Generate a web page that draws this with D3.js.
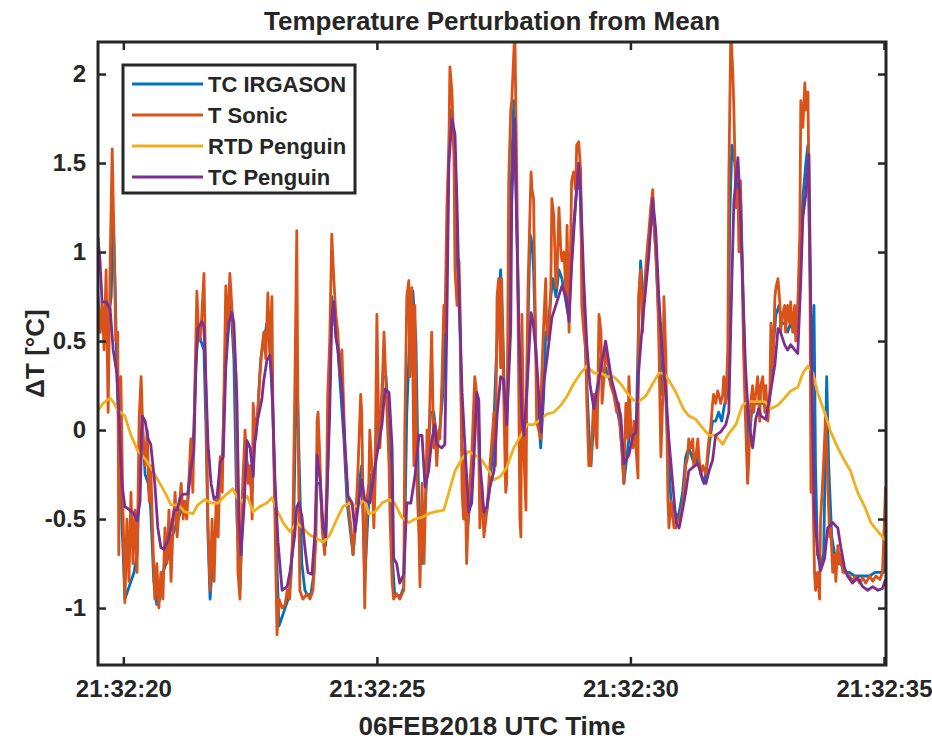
<!DOCTYPE html>
<html>
<head>
<meta charset="utf-8">
<script src="https://cdn.jsdelivr.net/npm/d3@7"></script>
<style>
  body { margin: 0; background: #fff; }
  text { font-family: "Liberation Sans", Arial, sans-serif; font-weight: bold; fill: #262626; }
</style>
</head>
<body>
<div id="main"></div>
<script>
// seconds after 21:32:00 UTC, value in degC
var tcIrgason = [
[19.50,0.75],[19.54,0.55],[19.58,0.65],[19.64,0.50],[19.70,0.60],[19.76,0.75],[19.80,1.20],[19.84,0.80],[19.87,0.35],[19.91,0.00],
[19.97,-0.50],[20.03,-0.95],[20.09,-0.90],[20.15,-0.85],[20.21,-0.80],[20.27,-0.70],[20.33,-0.15],[20.37,0.05],[20.43,-0.25],[20.49,-0.30],
[20.54,-0.45],[20.60,-0.85],[20.66,-0.98],[20.72,-0.95],[20.78,-0.80],[20.84,-0.75],[20.90,-0.70],[20.96,-0.60],[21.02,-0.55],[21.08,-0.50],
[21.14,-0.45],[21.20,-0.45],[21.27,-0.40],[21.33,-0.20],[21.39,0.00],[21.43,0.35],[21.47,0.60],[21.53,0.50],[21.59,0.45],[21.63,0.00],
[21.67,-0.60],[21.71,-0.95],[21.77,-0.70],[21.83,-0.50],[21.89,-0.30],[21.95,-0.20],[22.00,0.30],[22.06,0.60],[22.12,0.70],[22.18,0.40],
[22.24,-0.50],[22.30,-0.90],[22.36,-0.40],[22.42,-0.15],[22.48,-0.25],[22.54,-0.35],[22.59,0.00],[22.65,0.10],[22.71,0.40],[22.77,0.50],
[22.83,0.60],[22.89,0.45],[22.95,0.10],[23.01,-0.60],[23.07,-1.10],[23.13,-1.05],[23.19,-1.00],[23.25,-0.95],[23.30,-0.85],[23.36,-0.50],
[23.42,0.40],[23.46,-0.10],[23.52,-0.75],[23.58,-0.90],[23.64,-0.93],[23.70,-0.92],[23.76,-0.80],[23.82,-0.30],[23.88,-0.30],[23.94,-0.60],
[23.99,-0.65],[24.05,0.00],[24.11,0.75],[24.17,0.60],[24.23,0.45],[24.29,0.20],[24.35,-0.05],[24.41,-0.40],[24.47,-0.55],[24.53,-0.70],
[24.59,-0.50],[24.65,-0.30],[24.70,-0.20],[24.76,-0.85],[24.82,-0.50],[24.88,-0.25],[24.94,-0.45],[25.00,0.05],[25.06,0.00],[25.12,0.30],
[25.18,0.30],[25.24,0.00],[25.30,-0.70],[25.35,-0.92],[25.41,-0.93],[25.47,-0.93],[25.53,-0.88],[25.59,0.10],[25.65,0.55],[25.71,0.78],
[25.77,0.50],[25.83,-0.50],[25.89,-0.75],[25.95,-0.45],[26.01,-0.10],[26.06,0.10],[26.12,0.10],[26.18,-0.05],[26.24,0.00],[26.30,0.20],
[26.36,0.60],[26.40,1.30],[26.44,1.80],[26.48,1.80],[26.52,1.60],[26.56,1.10],[26.60,0.85],[26.64,0.55],[26.68,-0.10],[26.73,-0.45],
[26.79,-0.55],[26.85,-0.35],[26.91,0.00],[26.97,0.15],[27.01,0.00],[27.05,-0.40],[27.11,-0.50],[27.17,-0.45],[27.23,-0.30],[27.29,-0.10],
[27.34,0.30],[27.40,0.70],[27.44,0.90],[27.48,0.60],[27.54,-0.10],[27.58,0.20],[27.62,1.00],[27.66,1.50],[27.70,1.85],[27.74,1.40],
[27.78,0.90],[27.82,0.10],[27.86,0.10],[27.90,-0.10],[27.94,0.00],[27.98,0.60],[28.02,1.10],[28.06,1.05],[28.09,0.90],[28.13,0.50],
[28.17,0.15],[28.23,-0.10],[28.29,0.20],[28.33,0.55],[28.37,0.55],[28.43,0.75],[28.47,0.85],[28.53,0.75],[28.59,0.90],[28.65,0.85],
[28.71,0.75],[28.77,0.65],[28.83,0.90],[28.88,1.15],[28.94,1.35],[29.00,1.40],[29.06,0.80],[29.12,0.40],[29.18,0.00],[29.22,-0.20],
[29.28,0.05],[29.34,0.10],[29.40,0.40],[29.46,0.30],[29.51,0.35],[29.57,0.30],[29.63,0.25],[29.69,0.20],[29.75,0.10],[29.81,0.00],
[29.87,-0.30],[29.93,-0.15],[29.99,0.00],[30.05,-0.05],[30.11,-0.05],[30.16,0.60],[30.20,0.95],[30.26,0.70],[30.32,0.90],[30.38,1.10],
[30.44,1.25],[30.50,1.00],[30.56,0.60],[30.62,0.20],[30.68,0.30],[30.74,-0.10],[30.80,-0.40],[30.86,-0.45],[30.92,-0.50],[30.97,-0.45],
[31.03,-0.35],[31.09,-0.15],[31.15,-0.10],[31.21,-0.15],[31.27,-0.20],[31.33,-0.15],[31.39,-0.25],[31.45,-0.30],[31.51,-0.20],[31.57,-0.05],
[31.62,0.05],[31.68,0.05],[31.74,0.10],[31.80,0.05],[31.86,0.15],[31.92,0.20],[31.96,1.20],[32.00,1.60],[32.06,1.50],[32.12,1.30],
[32.17,1.35],[32.21,0.90],[32.27,0.20],[32.33,-0.10],[32.39,0.10],[32.45,0.15],[32.51,0.15],[32.57,0.15],[32.63,0.15],[32.69,0.10],
[32.75,0.20],[32.81,0.45],[32.87,0.65],[32.93,0.70],[32.98,0.60],[33.04,0.60],[33.10,0.55],[33.16,0.60],[33.22,0.55],[33.28,0.55],
[33.34,0.90],[33.40,1.30],[33.46,1.50],[33.50,1.60],[33.54,0.90],[33.58,0.30],[33.62,0.70],[33.65,-0.20],[33.69,-0.70],[33.75,-0.75],
[33.81,-0.70],[33.87,0.30],[33.91,-0.20],[33.97,-0.60],[34.03,-0.70],[34.09,-0.75],[34.15,-0.75],[34.22,-0.80],[34.32,-0.80],[34.42,-0.82],
[34.52,-0.82],[34.62,-0.82],[34.72,-0.82],[34.82,-0.80],[34.92,-0.80],[35.00,-0.80],[35.03,-0.60]];

var tSonic = [
[19.50,0.70],[19.54,0.55],[19.58,0.72],[19.62,0.45],[19.66,0.90],[19.70,0.10],[19.74,0.95],[19.78,1.58],[19.82,1.00],[19.85,0.50],
[19.89,0.55],[19.91,-0.70],[19.95,0.30],[19.99,-0.40],[20.03,-0.97],[20.07,-0.50],[20.11,-0.85],[20.15,-0.35],[20.19,-0.75],[20.23,-0.45],
[20.27,-0.80],[20.31,0.05],[20.35,0.30],[20.39,-0.05],[20.43,-0.20],[20.47,0.00],[20.51,-0.40],[20.54,-0.20],[20.58,-0.60],[20.62,-0.95],
[20.66,-0.75],[20.70,-1.00],[20.74,-0.80],[20.78,-0.95],[20.82,-0.55],[20.86,-0.75],[20.90,-0.45],[20.94,-0.85],[20.98,-0.55],[21.02,-0.35],
[21.06,-0.60],[21.10,-0.45],[21.14,-0.30],[21.18,-0.50],[21.21,-0.40],[21.25,-0.50],[21.29,-0.30],[21.33,-0.05],[21.37,-0.35],[21.41,0.25],
[21.45,0.78],[21.49,0.50],[21.53,0.55],[21.59,0.88],[21.63,0.20],[21.67,-0.55],[21.71,-0.90],[21.75,-0.50],[21.79,-0.85],[21.83,-0.40],
[21.87,-0.60],[21.91,-0.15],[21.95,-0.35],[21.99,0.30],[22.02,0.81],[22.06,0.55],[22.10,0.88],[22.16,0.60],[22.22,0.30],[22.26,-0.80],
[22.30,-0.95],[22.34,-0.40],[22.40,0.00],[22.46,-0.30],[22.50,-0.20],[22.54,-0.50],[22.56,0.15],[22.61,-0.05],[22.65,0.10],[22.69,0.30],
[22.73,0.45],[22.77,0.55],[22.81,0.40],[22.85,0.77],[22.89,0.43],[22.93,0.75],[22.95,0.10],[22.99,-0.50],[23.03,-1.15],[23.07,-0.95],
[23.13,-1.00],[23.19,-0.98],[23.23,-0.90],[23.28,-0.95],[23.34,-0.60],[23.38,0.20],[23.42,1.12],[23.44,0.20],[23.48,-0.90],[23.54,-0.95],
[23.62,-0.92],[23.68,-0.95],[23.74,-0.90],[23.80,-0.60],[23.82,0.05],[23.84,0.10],[23.88,-0.20],[23.92,-0.55],[23.97,-0.70],[24.01,-0.30],
[24.03,0.20],[24.07,0.50],[24.11,1.10],[24.15,0.85],[24.19,0.65],[24.23,0.55],[24.27,0.30],[24.31,0.45],[24.37,-0.10],[24.43,-0.40],
[24.49,-0.55],[24.53,-0.70],[24.59,-0.45],[24.63,-0.20],[24.68,0.20],[24.70,0.10],[24.74,-0.60],[24.76,-1.00],[24.80,-0.40],[24.84,-0.30],
[24.86,0.00],[24.90,-0.20],[24.94,-0.55],[24.96,-0.35],[25.00,0.65],[25.04,-0.05],[25.06,-0.10],[25.10,0.20],[25.14,0.55],[25.16,0.40],
[25.20,0.10],[25.24,-0.20],[25.26,-0.50],[25.30,-0.85],[25.33,-0.95],[25.39,-0.92],[25.45,-0.95],[25.53,-0.90],[25.55,0.00],[25.59,0.75],
[25.63,0.84],[25.65,0.30],[25.69,0.80],[25.73,-0.20],[25.75,0.70],[25.79,-0.30],[25.83,-0.60],[25.85,-0.88],[25.89,-0.30],[25.93,-0.75],
[25.95,-0.50],[25.99,0.00],[26.02,-0.15],[26.04,0.10],[26.08,0.55],[26.12,-0.10],[26.14,0.05],[26.18,-0.20],[26.22,0.00],[26.24,-0.05],
[26.28,0.25],[26.32,0.70],[26.34,0.55],[26.38,1.25],[26.42,1.60],[26.44,2.04],[26.48,1.90],[26.52,1.55],[26.54,0.90],[26.58,0.70],
[26.62,0.95],[26.64,0.70],[26.68,-0.35],[26.71,-0.50],[26.73,-0.10],[26.77,-0.75],[26.81,-0.40],[26.87,-0.15],[26.93,0.30],[26.97,0.20],
[27.01,-0.10],[27.03,-0.55],[27.07,-0.30],[27.11,-0.60],[27.17,-0.45],[27.23,-0.20],[27.31,0.10],[27.34,-0.20],[27.37,0.75],[27.40,0.85],
[27.44,0.35],[27.46,0.85],[27.50,0.20],[27.54,-0.35],[27.56,-0.30],[27.60,1.40],[27.64,1.80],[27.66,1.85],[27.72,2.25],[27.76,1.40],
[27.78,0.80],[27.82,-0.50],[27.84,-0.60],[27.86,0.65],[27.90,-0.15],[27.94,-0.45],[27.96,0.40],[27.98,0.80],[28.04,1.45],[28.06,1.35],
[28.09,1.30],[28.13,0.50],[28.15,0.05],[28.23,-0.05],[28.25,0.30],[28.29,0.60],[28.33,0.85],[28.35,0.55],[28.39,0.50],[28.43,0.80],
[28.45,1.30],[28.49,1.20],[28.53,0.80],[28.55,0.85],[28.59,1.25],[28.63,1.00],[28.65,0.95],[28.69,1.00],[28.73,0.75],[28.75,1.15],
[28.79,0.55],[28.83,1.20],[28.84,1.40],[28.88,1.45],[28.92,1.35],[28.94,1.60],[28.98,1.62],[29.02,1.45],[29.04,0.70],[29.08,0.55],
[29.12,0.45],[29.14,0.15],[29.18,-0.20],[29.22,-0.20],[29.24,-0.05],[29.28,0.20],[29.32,-0.05],[29.34,-0.10],[29.38,0.65],[29.42,0.55],
[29.44,0.15],[29.48,0.30],[29.51,0.45],[29.53,0.40],[29.57,0.35],[29.61,0.25],[29.67,0.20],[29.73,0.10],[29.77,0.15],[29.81,-0.05],
[29.83,-0.10],[29.87,-0.30],[29.91,0.15],[29.95,-0.05],[29.97,0.30],[30.01,0.00],[30.05,-0.10],[30.07,0.05],[30.11,-0.10],[30.15,-0.27],
[30.16,0.75],[30.20,0.90],[30.24,0.55],[30.26,0.70],[30.30,0.90],[30.34,1.05],[30.36,1.10],[30.40,1.25],[30.44,1.35],[30.46,1.20],
[30.50,1.00],[30.54,0.75],[30.56,0.50],[30.60,-0.15],[30.64,0.20],[30.66,0.75],[30.70,0.40],[30.74,-0.40],[30.76,-0.55],[30.80,-0.40],
[30.84,-0.50],[30.86,-0.55],[30.90,-0.55],[30.94,-0.50],[30.97,-0.50],[31.04,-0.40],[31.09,-0.20],[31.13,-0.15],[31.15,-0.05],[31.19,-0.10],
[31.23,-0.05],[31.25,-0.20],[31.29,-0.15],[31.33,-0.05],[31.35,-0.15],[31.39,-0.25],[31.43,-0.20],[31.49,-0.25],[31.53,-0.10],[31.55,-0.05],
[31.58,0.00],[31.62,0.15],[31.64,0.20],[31.68,0.15],[31.72,0.22],[31.74,0.20],[31.78,0.15],[31.82,0.20],[31.84,0.30],[31.88,0.15],
[31.92,0.45],[31.94,1.40],[31.98,2.25],[32.02,2.00],[32.04,1.80],[32.08,1.25],[32.12,1.35],[32.14,1.00],[32.17,1.40],[32.21,0.80],
[32.23,0.45],[32.27,0.05],[32.31,-0.30],[32.33,-0.20],[32.37,0.15],[32.41,0.25],[32.43,0.10],[32.47,0.20],[32.51,0.30],[32.55,0.05],
[32.57,0.25],[32.61,0.30],[32.65,0.10],[32.67,0.25],[32.71,0.05],[32.75,0.20],[32.77,0.60],[32.81,0.35],[32.85,0.75],[32.87,0.80],
[32.91,0.85],[32.95,0.70],[32.96,0.55],[33.00,0.65],[33.04,0.70],[33.06,0.55],[33.10,0.70],[33.14,0.60],[33.16,0.72],[33.20,0.55],
[33.24,0.70],[33.26,0.50],[33.30,0.70],[33.34,1.10],[33.36,1.85],[33.40,1.70],[33.44,1.95],[33.46,1.80],[33.50,1.90],[33.54,0.90],
[33.56,-0.35],[33.58,0.30],[33.60,-0.35],[33.63,-0.80],[33.65,-0.90],[33.69,-0.80],[33.73,-0.95],[33.75,-0.50],[33.79,-0.30],[33.83,-0.05],
[33.85,0.10],[33.89,-0.30],[33.93,-0.60],[33.95,-0.55],[33.99,-0.80],[34.03,-0.70],[34.05,-0.85],[34.09,-0.65],[34.13,-0.75],[34.15,-0.70],
[34.19,-0.80],[34.24,-0.80],[34.32,-0.82],[34.38,-0.85],[34.44,-0.82],[34.52,-0.86],[34.58,-0.83],[34.64,-0.86],[34.72,-0.82],[34.78,-0.85],
[34.84,-0.82],[34.92,-0.84],[34.97,-0.80],[35.01,-0.50],[35.03,-0.32]];

var rtdPenguin = [
[19.50,0.11],[19.60,0.15],[19.74,0.18],[19.82,0.15],[19.89,0.11],[20.03,0.08],[20.15,-0.03],[20.29,-0.12],[20.45,-0.17],[20.54,-0.21],
[20.64,-0.26],[20.82,-0.35],[20.94,-0.42],[21.08,-0.42],[21.21,-0.46],[21.37,-0.47],[21.47,-0.42],[21.61,-0.39],[21.73,-0.41],[21.87,-0.41],
[22.00,-0.37],[22.16,-0.33],[22.30,-0.41],[22.44,-0.37],[22.56,-0.46],[22.69,-0.43],[22.83,-0.41],[22.93,-0.38],[23.03,-0.45],[23.15,-0.52],
[23.28,-0.57],[23.42,-0.52],[23.54,-0.55],[23.68,-0.59],[23.82,-0.61],[23.94,-0.63],[24.07,-0.59],[24.21,-0.50],[24.33,-0.43],[24.47,-0.41],
[24.61,-0.43],[24.76,-0.39],[24.84,-0.47],[24.96,-0.46],[25.10,-0.41],[25.24,-0.39],[25.35,-0.41],[25.49,-0.49],[25.63,-0.52],[25.75,-0.50],
[25.89,-0.49],[26.02,-0.47],[26.14,-0.46],[26.32,-0.45],[26.42,-0.35],[26.54,-0.23],[26.68,-0.16],[26.81,-0.12],[26.93,-0.14],[27.07,-0.17],
[27.21,-0.23],[27.31,-0.28],[27.44,-0.26],[27.56,-0.21],[27.70,-0.10],[27.84,-0.03],[27.96,0.03],[28.09,0.03],[28.23,0.06],[28.35,0.09],
[28.49,0.10],[28.63,0.14],[28.75,0.19],[28.88,0.26],[29.02,0.32],[29.14,0.36],[29.28,0.32],[29.42,0.32],[29.53,0.30],[29.67,0.30],
[29.81,0.26],[29.93,0.21],[30.05,0.17],[30.16,0.16],[30.30,0.19],[30.44,0.26],[30.56,0.32],[30.66,0.32],[30.76,0.28],[30.90,0.21],
[31.04,0.12],[31.15,0.08],[31.29,0.06],[31.43,0.01],[31.55,-0.03],[31.68,-0.03],[31.82,-0.08],[31.94,-0.02],[32.08,0.03],[32.21,0.14],
[32.33,0.16],[32.47,0.16],[32.65,0.16],[32.77,0.12],[32.91,0.14],[33.04,0.18],[33.16,0.22],[33.30,0.24],[33.40,0.32],[33.50,0.36],
[33.60,0.32],[33.69,0.21],[33.83,0.10],[33.95,-0.01],[34.09,-0.10],[34.22,-0.17],[34.34,-0.23],[34.48,-0.35],[34.62,-0.43],[34.74,-0.52],
[34.88,-0.57],[35.03,-0.62]];

var tcPenguin = [
[19.50,1.08],[19.54,0.95],[19.58,0.72],[19.66,0.72],[19.74,0.68],[19.80,0.45],[19.87,0.32],[19.91,0.10],[19.97,-0.30],[20.03,-0.43],
[20.13,-0.45],[20.21,-0.47],[20.27,-0.51],[20.33,-0.40],[20.37,0.08],[20.43,0.05],[20.49,-0.05],[20.54,-0.08],[20.62,-0.30],[20.68,-0.55],
[20.74,-0.66],[20.80,-0.67],[20.88,-0.62],[20.94,-0.55],[21.00,-0.45],[21.06,-0.45],[21.12,-0.38],[21.18,-0.36],[21.27,-0.36],[21.33,-0.22],
[21.39,-0.12],[21.43,0.35],[21.47,0.57],[21.55,0.61],[21.59,0.58],[21.63,0.25],[21.67,-0.08],[21.73,-0.30],[21.79,-0.39],[21.85,-0.37],
[21.91,-0.18],[21.97,-0.15],[22.02,0.35],[22.08,0.60],[22.14,0.66],[22.18,0.60],[22.24,0.17],[22.28,-0.50],[22.32,-0.70],[22.38,-0.43],
[22.44,-0.06],[22.50,-0.10],[22.56,-0.26],[22.59,-0.08],[22.65,0.06],[22.73,0.17],[22.77,0.28],[22.83,0.39],[22.89,0.42],[22.93,0.28],
[22.99,-0.28],[23.05,-0.63],[23.13,-0.90],[23.23,-0.88],[23.29,-0.79],[23.38,-0.59],[23.42,-0.43],[23.46,-0.41],[23.52,-0.48],[23.58,-0.66],
[23.64,-0.80],[23.72,-0.81],[23.78,-0.57],[23.82,-0.14],[23.88,-0.28],[23.94,-0.55],[23.99,-0.60],[24.07,0.10],[24.11,0.63],[24.15,0.72],
[24.19,0.52],[24.23,0.46],[24.31,0.23],[24.37,-0.08],[24.43,-0.37],[24.51,-0.41],[24.57,-0.57],[24.63,-0.43],[24.70,-0.28],[24.76,-0.39],
[24.86,-0.41],[24.94,-0.25],[25.00,-0.14],[25.10,0.03],[25.16,0.23],[25.24,0.21],[25.30,-0.10],[25.33,-0.72],[25.39,-0.75],[25.45,-0.86],
[25.53,-0.81],[25.59,-0.41],[25.67,-0.41],[25.75,-0.26],[25.83,-0.03],[25.89,-0.03],[25.95,-0.32],[26.02,-0.23],[26.08,-0.06],[26.14,0.03],
[26.18,-0.08],[26.28,-0.10],[26.34,-0.08],[26.38,0.61],[26.42,1.50],[26.48,1.75],[26.54,1.66],[26.58,1.28],[26.62,0.79],[26.68,0.21],
[26.73,-0.06],[26.81,-0.46],[26.87,-0.41],[26.93,-0.06],[26.97,0.21],[27.01,0.17],[27.03,-0.17],[27.11,-0.46],[27.17,-0.43],[27.23,-0.32],
[27.31,-0.23],[27.37,0.08],[27.44,0.30],[27.50,0.28],[27.56,0.03],[27.64,0.57],[27.66,1.28],[27.72,1.75],[27.76,1.10],[27.80,0.57],
[27.86,0.06],[27.90,-0.03],[27.96,0.23],[28.04,0.66],[28.08,0.61],[28.14,0.43],[28.20,0.17],[28.24,-0.01],[28.29,0.26],[28.35,0.39],
[28.45,0.63],[28.55,0.72],[28.65,0.81],[28.73,0.75],[28.79,0.61],[28.84,0.92],[28.92,1.28],[28.98,1.50],[29.02,1.33],[29.08,0.84],
[29.14,0.48],[29.20,0.26],[29.28,0.12],[29.34,0.23],[29.42,0.35],[29.51,0.50],[29.57,0.39],[29.63,0.28],[29.73,0.17],[29.81,0.08],
[29.87,-0.19],[29.97,-0.14],[30.05,-0.03],[30.11,-0.01],[30.16,0.32],[30.24,0.61],[30.30,0.79],[30.36,0.97],[30.44,1.30],[30.50,1.12],
[30.56,0.75],[30.64,0.39],[30.70,0.21],[30.76,-0.06],[30.84,-0.32],[30.90,-0.52],[30.96,-0.55],[31.04,-0.43],[31.09,-0.35],[31.15,-0.23],
[31.23,-0.21],[31.33,-0.19],[31.43,-0.28],[31.49,-0.30],[31.55,-0.23],[31.62,-0.17],[31.68,-0.03],[31.78,-0.01],[31.88,0.03],[31.94,0.10],
[32.00,0.84],[32.04,1.28],[32.12,1.53],[32.17,1.24],[32.21,0.84],[32.27,0.35],[32.33,0.06],[32.41,-0.10],[32.47,0.06],[32.53,0.12],
[32.57,0.08],[32.67,0.06],[32.75,0.19],[32.85,0.37],[32.91,0.57],[32.96,0.55],[33.04,0.48],[33.10,0.45],[33.16,0.48],[33.24,0.45],
[33.30,0.43],[33.36,0.84],[33.40,1.19],[33.46,1.33],[33.52,1.55],[33.56,0.61],[33.60,-0.06],[33.63,-0.46],[33.69,-0.68],[33.75,-0.79],
[33.83,-0.72],[33.89,-0.55],[33.99,-0.52],[34.09,-0.55],[34.15,-0.66],[34.22,-0.77],[34.28,-0.82],[34.38,-0.86],[34.48,-0.83],[34.58,-0.88],
[34.68,-0.90],[34.78,-0.88],[34.88,-0.90],[34.97,-0.89],[35.03,-0.84]];

var seriesNames = ["TC IRGASON", "T Sonic", "RTD Penguin", "TC Penguin"];
var seriesColors = ["#0072BD", "#D95319", "#EDB120", "#7E2F8E"];
var xTickSeconds = [20, 25, 30, 35];
var yTicks = [-1, -0.5, 0, 0.5, 1, 1.5, 2];

var w = 932, h = 740;
var plotL = 98, plotT = 42, plotR = 886, plotB = 665;
var t0 = Date.UTC(2018, 1, 6, 21, 32, 0);
var toDate = function (s) { return new Date(t0 + s * 1000); };

var x = d3.scaleUtc().domain([toDate(19.5), toDate(35.04)]).range([plotL, plotR]);
var y = d3.scaleLinear().domain([-1.32, 2.18]).range([plotB, plotT]);

var svg = d3.select("#main").append("svg").attr("width", w).attr("height", h);

svg.append("clipPath").attr("id", "clip").append("rect")
  .attr("x", plotL).attr("y", plotT).attr("width", plotR - plotL).attr("height", plotB - plotT);

var line = d3.line().x(function (d) { return x(toDate(d[0])); }).y(function (d) { return y(d[1]); });

var plot = svg.append("g").attr("clip-path", "url(#clip)");
[tcIrgason, tSonic, rtdPenguin, tcPenguin].forEach(function (s, i) {
  plot.append("path").datum(s)
    .attr("d", line)
    .attr("fill", "none")
    .attr("stroke", seriesColors[i])
    .attr("stroke-width", 2.8)
    .attr("stroke-linejoin", "round");
});

// axes, ticks pointing inward on all four sides
var fmtY = function (d) { return String(d); };
svg.append("g").attr("transform", "translate(0," + plotB + ")")
  .call(d3.axisBottom(x).tickValues(xTickSeconds.map(toDate)).tickFormat(d3.utcFormat("%H:%M:%S")).tickSizeInner(-8).tickSizeOuter(0).tickPadding(15));
svg.append("g").attr("transform", "translate(0," + plotT + ")")
  .call(d3.axisTop(x).tickValues(xTickSeconds.map(toDate)).tickFormat("").tickSizeInner(-8).tickSizeOuter(0));
svg.append("g").attr("transform", "translate(" + plotL + ",0)")
  .call(d3.axisLeft(y).tickValues(yTicks).tickFormat(fmtY).tickSizeInner(-8).tickSizeOuter(0).tickPadding(12));
svg.append("g").attr("transform", "translate(" + plotR + ",0)")
  .call(d3.axisRight(y).tickValues(yTicks).tickFormat("").tickSizeInner(-8).tickSizeOuter(0));

svg.selectAll(".domain").remove();
svg.selectAll(".tick line").attr("stroke", "#262626").attr("stroke-width", 2.5);
svg.selectAll(".tick text").attr("font-size", 24).attr("font-family", "Liberation Sans, Arial, sans-serif")
  .attr("font-weight", "bold").attr("fill", "#262626");

svg.append("rect")
  .attr("x", plotL).attr("y", plotT).attr("width", plotR - plotL).attr("height", plotB - plotT)
  .attr("fill", "none").attr("stroke", "#262626").attr("stroke-width", 3);

// titles
svg.append("text").attr("x", (plotL + plotR) / 2).attr("y", 30).attr("text-anchor", "middle")
  .attr("font-size", 26).text("Temperature Perturbation from Mean");
svg.append("text").attr("x", (plotL + plotR) / 2).attr("y", 735).attr("text-anchor", "middle")
  .attr("font-size", 26).text("06FEB2018 UTC Time");
svg.append("text").attr("transform", "translate(44," + (plotT + plotB) / 2 + ") rotate(-90)")
  .attr("text-anchor", "middle").attr("font-size", 26).text("\u0394T [\u00B0C]");

// legend
var legend = svg.append("g");
legend.append("rect").attr("x", 123).attr("y", 65).attr("width", 232).attr("height", 128)
  .attr("fill", "#fff").attr("stroke", "#262626").attr("stroke-width", 3);
var item = legend.selectAll("g.item").data(seriesNames).enter().append("g")
  .attr("class", "item")
  .attr("transform", function (d, i) { return "translate(0," + (84 + i * 31) + ")"; });
item.append("line").attr("x1", 132).attr("x2", 203).attr("y1", 0).attr("y2", 0)
  .attr("stroke", function (d, i) { return seriesColors[i]; }).attr("stroke-width", 2.8);
item.append("text").attr("x", 208).attr("y", 8).attr("font-size", 22).text(function (d) { return d; });
</script>
</body>
</html>
